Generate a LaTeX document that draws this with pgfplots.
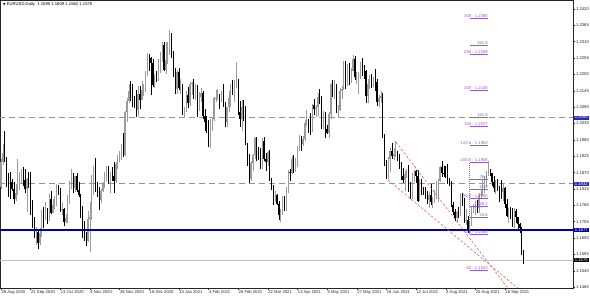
\documentclass[border=0pt]{standalone}
\usepackage{pgfplots}
\pgfplotsset{compat=1.18}
\usepackage{pgfplotstable}
\usepackage{fontspec}
\setmainfont{Liberation Sans}
\newfontfamily\dejavu{DejaVu Sans}
\definecolor{upc}{RGB}{155,155,155}
\definecolor{fib}{RGB}{145,95,195}
\definecolor{hline}{RGB}{140,140,205}
\definecolor{sline}{RGB}{0,0,170}
\definecolor{lblue}{RGB}{40,40,190}
\definecolor{chan}{RGB}{205,110,100}
\definecolor{pline}{RGB}{195,195,195}
\definecolor{fibv}{RGB}{200,90,120}
\pgfplotstableread{
O H L C
1.1823 1.1916 1.1815 1.1904
1.1904 1.1966 1.1896 1.1935
1.1935 1.2011 1.1905 1.1913
1.1913 1.1921 1.1820 1.1855
1.1855 1.1868 1.1789 1.1851
1.1851 1.1873 1.1781 1.1838
1.1838 1.1848 1.1808 1.1816
1.1816 1.1837 1.1765 1.1780
1.1780 1.1830 1.1773 1.1800
1.1800 1.1917 1.1796 1.1813
1.1813 1.1871 1.1810 1.1846
1.1846 1.1883 1.1836 1.1862
1.1862 1.1888 1.1826 1.1846
1.1846 1.1882 1.1801 1.1816
1.1816 1.1851 1.1737 1.1848
1.1848 1.1872 1.1819 1.1838
1.1838 1.1872 1.1727 1.1771
1.1771 1.1777 1.1685 1.1703
1.1703 1.1720 1.1651 1.1656
1.1656 1.1686 1.1627 1.1670
1.1670 1.1680 1.1612 1.1632
1.1632 1.1683 1.1625 1.1667
1.1667 1.1745 1.1654 1.1743
1.1743 1.1754 1.1684 1.1720
1.1720 1.1770 1.1710 1.1748
1.1748 1.1750 1.1696 1.1714
1.1714 1.1797 1.1708 1.1781
1.1781 1.1809 1.1731 1.1735
1.1735 1.1782 1.1733 1.1761
1.1761 1.1790 1.1747 1.1765
1.1765 1.1831 1.1759 1.1826
1.1826 1.1829 1.1794 1.1813
1.1813 1.1818 1.1737 1.1744
1.1744 1.1768 1.1726 1.1746
1.1746 1.1750 1.1689 1.1705
1.1705 1.1730 1.1701 1.1716
1.1716 1.1794 1.1701 1.1768
1.1768 1.1841 1.1765 1.1818
1.1818 1.1881 1.1814 1.1862
1.1862 1.1869 1.1802 1.1818
1.1818 1.1860 1.1803 1.1859
1.1859 1.1870 1.1803 1.1812
1.1812 1.1838 1.1789 1.1794
1.1794 1.1798 1.1718 1.1747
1.1747 1.1756 1.1650 1.1673
1.1673 1.1707 1.1640 1.1647
1.1647 1.1670 1.1622 1.1641
1.1641 1.1740 1.1635 1.1713
1.1713 1.1770 1.1602 1.1722
1.1722 1.1861 1.1711 1.1826
1.1826 1.1891 1.1795 1.1873
1.1873 1.1920 1.1803 1.1814
1.1814 1.1838 1.1787 1.1813
1.1813 1.1820 1.1745 1.1779
1.1779 1.1815 1.1766 1.1809
1.1809 1.1839 1.1803 1.1833
1.1833 1.1873 1.1817 1.1856
1.1856 1.1893 1.1842 1.1861
1.1861 1.1891 1.1832 1.1851
1.1851 1.1872 1.1801 1.1870
1.1870 1.1890 1.1843 1.1858
1.1858 1.1905 1.1800 1.1843
1.1843 1.1904 1.1836 1.1898
1.1898 1.1930 1.1882 1.1915
1.1915 1.1942 1.1904 1.1917
1.1917 1.1965 1.1911 1.1961
1.1961 1.2004 1.1923 1.1928
1.1928 1.2077 1.1924 1.2072
1.2072 1.2122 1.2039 1.2111
1.2111 1.2167 1.2103 1.2145
1.2145 1.2177 1.2110 1.2121
1.2121 1.2167 1.2089 1.2109
1.2109 1.2127 1.2088 1.2101
1.2101 1.2148 1.2058 1.2079
1.2079 1.2162 1.2059 1.2133
1.2133 1.2161 1.2083 1.2114
1.2114 1.2178 1.2113 1.2147
1.2147 1.2166 1.2126 1.2149
1.2149 1.2212 1.2140 1.2198
1.2198 1.2273 1.2194 1.2265
1.2265 1.2268 1.2213 1.2255
1.2255 1.2260 1.2130 1.2238
1.2238 1.2250 1.2156 1.2163
1.2163 1.2201 1.2153 1.2189
1.2189 1.2211 1.2176 1.2188
1.2188 1.2251 1.2178 1.2215
1.2215 1.2276 1.2206 1.2247
1.2247 1.2310 1.2241 1.2300
1.2300 1.2310 1.2213 1.2216
1.2216 1.2310 1.2200 1.2248
1.2248 1.2310 1.2234 1.2297
1.2297 1.2349 1.2264 1.2326
1.2326 1.2340 1.2255 1.2270
1.2270 1.2280 1.2192 1.2219
1.2219 1.2222 1.2133 1.2152
1.2152 1.2216 1.2133 1.2208
1.2208 1.2223 1.2146 1.2155
1.2155 1.2183 1.2133 1.2157
1.2157 1.2167 1.2063 1.2077
1.2077 1.2091 1.2054 1.2077
1.2077 1.2145 1.2072 1.2130
1.2130 1.2157 1.2087 1.2105
1.2105 1.2173 1.2094 1.2167
1.2167 1.2175 1.2132 1.2172
1.2172 1.2184 1.2118 1.2139
1.2139 1.2169 1.2115 1.2160
1.2160 1.2164 1.2058 1.2113
1.2113 1.2141 1.2077 1.2125
1.2125 1.2155 1.2106 1.2137
1.2137 1.2143 1.2051 1.2061
1.2061 1.2083 1.2011 1.2040
1.2040 1.2061 1.2003 1.2036
1.2036 1.2046 1.1956 1.1963
1.1963 1.2050 1.1952 1.2047
1.2047 1.2053 1.2011 1.2050
1.2050 1.2124 1.2043 1.2119
1.2119 1.2149 1.2106 1.2121
1.2121 1.2150 1.2114 1.2132
1.2132 1.2135 1.2083 1.2119
1.2119 1.2144 1.2108 1.2127
1.2127 1.2169 1.2092 1.2103
1.2103 1.2108 1.2023 1.2039
1.2039 1.2092 1.2022 1.2092
1.2092 1.2144 1.2074 1.2119
1.2119 1.2169 1.2090 1.2155
1.2155 1.2180 1.2129 1.2151
1.2151 1.2181 1.2108 1.2165
1.2165 1.2243 1.2155 1.2175
1.2175 1.2183 1.2062 1.2075
1.2075 1.2110 1.2022 1.2050
1.2050 1.2113 1.2011 1.2089
1.2089 1.2113 1.2043 1.2061
1.2061 1.2094 1.1963 1.1966
1.1966 1.1970 1.1893 1.1915
1.1915 1.1934 1.1836 1.1849
1.1849 1.1910 1.1843 1.1901
1.1901 1.1934 1.1876 1.1929
1.1929 1.1990 1.1916 1.1986
1.1986 1.1990 1.1910 1.1952
1.1952 1.1955 1.1911 1.1929
1.1929 1.1952 1.1883 1.1900
1.1900 1.1985 1.1883 1.1976
1.1976 1.1989 1.1908 1.1915
1.1915 1.1936 1.1874 1.1905
1.1905 1.1943 1.1893 1.1939
1.1939 1.1946 1.1842 1.1848
1.1848 1.1853 1.1810 1.1813
1.1813 1.1827 1.1761 1.1778
1.1778 1.1807 1.1772 1.1795
1.1795 1.1799 1.1760 1.1763
1.1763 1.1775 1.1712 1.1728
1.1728 1.1748 1.1704 1.1730
1.1730 1.1790 1.1726 1.1778
1.1778 1.1790 1.1740 1.1764
1.1764 1.1820 1.1740 1.1811
1.1811 1.1878 1.1800 1.1873
1.1873 1.1883 1.1843 1.1868
1.1868 1.1927 1.1866 1.1915
1.1915 1.1928 1.1870 1.1901
1.1901 1.1918 1.1873 1.1911
1.1911 1.1958 1.1890 1.1947
1.1947 1.1995 1.1942 1.1980
1.1980 1.1992 1.1943 1.1966
1.1966 1.1994 1.1958 1.1982
1.1982 1.2048 1.1975 1.2036
1.2036 1.2079 1.2025 1.2036
1.2036 1.2050 1.2003 1.2035
1.2035 1.2070 1.1995 1.2012
1.2012 1.2100 1.2005 1.2096
1.2096 1.2116 1.2062 1.2083
1.2083 1.2098 1.2057 1.2091
1.2091 1.2138 1.2061 1.2125
1.2125 1.2150 1.2099 1.2123
1.2123 1.2128 1.2015 1.2020
1.2020 1.2078 1.2015 1.2062
1.2062 1.2074 1.1986 1.2015
1.2015 1.2029 1.1999 1.2003
1.2003 1.2072 1.1986 1.2066
1.2066 1.2172 1.2050 1.2166
1.2166 1.2182 1.2125 1.2132
1.2132 1.2181 1.2116 1.2149
1.2149 1.2166 1.2071 1.2075
1.2075 1.2097 1.2052 1.2080
1.2080 1.2154 1.2077 1.2144
1.2144 1.2161 1.2118 1.2150
1.2150 1.2245 1.2149 1.2222
1.2222 1.2244 1.2152 1.2175
1.2175 1.2235 1.2162 1.2226
1.2226 1.2239 1.2163 1.2180
1.2180 1.2222 1.2170 1.2213
1.2213 1.2266 1.2212 1.2251
1.2251 1.2262 1.2180 1.2191
1.2191 1.2208 1.2169 1.2193
1.2193 1.2209 1.2133 1.2193
1.2193 1.2242 1.2186 1.2227
1.2227 1.2254 1.2196 1.2213
1.2213 1.2231 1.2186 1.2210
1.2210 1.2214 1.2103 1.2126
1.2126 1.2185 1.2104 1.2167
1.2167 1.2199 1.2150 1.2193
1.2193 1.2200 1.2154 1.2175
1.2175 1.2190 1.2159 1.2178
1.2178 1.2218 1.2144 1.2175
1.2175 1.2183 1.2093 1.2106
1.2106 1.2131 1.2092 1.2121
1.2121 1.2144 1.2104 1.2127
1.2127 1.2137 1.1987 1.1997
1.1997 1.2000 1.1891 1.1906
1.1906 1.1911 1.1847 1.1862
1.1862 1.1922 1.1848 1.1916
1.1916 1.1954 1.1872 1.1941
1.1941 1.1970 1.1916 1.1926
1.1926 1.1951 1.1911 1.1931
1.1931 1.1975 1.1923 1.1935
1.1935 1.1944 1.1909 1.1925
1.1925 1.1933 1.1882 1.1894
1.1894 1.1907 1.1846 1.1858
1.1858 1.1885 1.1835 1.1846
1.1846 1.1874 1.1807 1.1866
1.1866 1.1882 1.1853 1.1867
1.1867 1.1895 1.1806 1.1822
1.1822 1.1839 1.1781 1.1791
1.1791 1.1868 1.1782 1.1844
1.1844 1.1880 1.1838 1.1874
1.1874 1.1880 1.1836 1.1860
1.1860 1.1880 1.1772 1.1775
1.1775 1.1849 1.1773 1.1838
1.1838 1.1849 1.1795 1.1812
1.1812 1.1823 1.1795 1.1806
1.1806 1.1820 1.1781 1.1800
1.1800 1.1808 1.1763 1.1779
1.1779 1.1805 1.1751 1.1794
1.1794 1.1830 1.1760 1.1771
1.1771 1.1787 1.1752 1.1771
1.1771 1.1813 1.1768 1.1800
1.1800 1.1840 1.1781 1.1815
1.1815 1.1849 1.1770 1.1842
1.1842 1.1893 1.1837 1.1887
1.1887 1.1909 1.1856 1.1870
1.1870 1.1892 1.1856 1.1868
1.1868 1.1892 1.1852 1.1867
1.1867 1.1900 1.1832 1.1835
1.1835 1.1852 1.1826 1.1834
1.1834 1.1841 1.1754 1.1762
1.1762 1.1771 1.1727 1.1736
1.1736 1.1746 1.1706 1.1717
1.1717 1.1741 1.1705 1.1738
1.1738 1.1753 1.1716 1.1729
1.1729 1.1802 1.1725 1.1795
1.1795 1.1802 1.1757 1.1779
1.1779 1.1785 1.1701 1.1711
1.1711 1.1747 1.1694 1.1711
1.1711 1.1723 1.1666 1.1674
1.1674 1.1705 1.1664 1.1698
1.1698 1.1755 1.1692 1.1748
1.1748 1.1764 1.1734 1.1756
1.1756 1.1773 1.1727 1.1772
1.1772 1.1779 1.1735 1.1750
1.1750 1.1802 1.1735 1.1794
1.1794 1.1810 1.1781 1.1797
1.1797 1.1846 1.1790 1.1807
1.1807 1.1857 1.1801 1.1838
1.1838 1.1875 1.1822 1.1875
1.1875 1.1909 1.1858 1.1879
1.1879 1.1883 1.1857 1.1867
1.1867 1.1870 1.1825 1.1837
1.1837 1.1857 1.1803 1.1817
1.1817 1.1844 1.1797 1.1823
1.1823 1.1848 1.1808 1.1813
1.1813 1.1826 1.1771 1.1808
1.1808 1.1845 1.1782 1.1803
1.1803 1.1831 1.1773 1.1819
1.1819 1.1823 1.1751 1.1763
1.1763 1.1781 1.1722 1.1725
1.1725 1.1750 1.1700 1.1727
1.1727 1.1753 1.1715 1.1723
1.1723 1.1752 1.1688 1.1688
1.1688 1.1750 1.1684 1.1741
1.1741 1.1746 1.1701 1.1719
1.1719 1.1720 1.1677 1.1696
1.1696 1.1699 1.1668 1.1683
1.1683 1.1687 1.1592 1.1597
1.1595 1.1609 1.1562 1.1575
}\eurusd
\tikzset{fibtxt/.style={anchor=south east, inner xsep=0.3pt, inner ysep=0.4pt, text=fib, font=\fontsize{4.2}{5}\selectfont}}
\pgfplotsset{candle/.style={draw=none, mark=none, forget plot, error bars/.cd, y dir=plus, y explicit, error mark=none, error bar style={#1}}}
\begin{document}
\begin{tikzpicture}
\path[use as bounding box] (0pt,-8pt) rectangle (590pt,288pt);
\begin{axis}[
  scale only axis, width=573pt, height=288pt,
  xmin=-0.54, xmax=308.7, ymin=1.1482, ymax=1.2450,
  axis line style={black!85, line width=0.5pt},
  xtick={0,16,...,272},
  xticklabels={28 Aug 2020, 21 Sep 2020, 13 Oct 2020, 4 Nov 2020, 26 Nov 2020, 18 Dec 2020, 13 Jan 2021, 4 Feb 2021, 26 Feb 2021, 22 Mar 2021, 13 Apr 2021, 5 May 2021, 27 May 2021, 18 Jun 2021, 12 Jul 2021, 3 Aug 2021, 25 Aug 2021, 16 Sep 2021},
  ytick={1.1485,1.1540,1.1595,1.1650,1.1705,1.1760,1.1815,1.1870,1.1925,1.1980,1.2035,1.2090,1.2145,1.2200,1.2255,1.2310,1.2365,1.2420},
  xtick pos=left, ytick pos=right, xticklabel pos=left, yticklabel pos=right,
  tick align=outside, major tick length=2pt,
  tick style={black!85, line width=0.4pt},
  scaled y ticks=false,
  /pgf/number format/assume math mode=true,
  yticklabel style={/pgf/number format/.cd, fixed, fixed zerofill, precision=4, /tikz/.cd, anchor=west, inner xsep=0.8pt},
  xticklabel style={anchor=north west, inner xsep=0.3pt, inner ysep=0.6pt},
  tick label style={font=\fontsize{4.2}{5}\selectfont, text=black!85},
]
% price line and horizontal levels
\addplot[pline, line width=0.5pt, forget plot] coordinates {(-1,1.1575) (310,1.1575)};
\addplot[hline, line width=1.1pt, dash pattern=on 6pt off 4pt, forget plot] coordinates {(-1,1.2055) (310,1.2055)};
\addplot[hline, line width=1.1pt, dash pattern=on 6pt off 4pt, forget plot] coordinates {(-1,1.1832) (310,1.1832)};
% candles: up (gray)
\addplot[candle={line width=0.6pt, draw=upc}]
  table[x expr=\coordindex, y expr={\thisrow{C}>=\thisrow{O} ? \thisrow{L} : nan}, y error plus expr={\thisrow{H}-\thisrow{L}}] {\eurusd};
\addplot[candle={line width=1.3pt, draw=upc}]
  table[x expr=\coordindex, y expr={\thisrow{C}>=\thisrow{O} ? \thisrow{O} : nan}, y error plus expr={max(\thisrow{C}-\thisrow{O},0.00005)}] {\eurusd};
% candles: down (black)
\addplot[candle={line width=0.6pt, draw=black}]
  table[x expr=\coordindex, y expr={\thisrow{C}<\thisrow{O} ? \thisrow{L} : nan}, y error plus expr={\thisrow{H}-\thisrow{L}}] {\eurusd};
\addplot[candle={line width=1.3pt, draw=black}]
  table[x expr=\coordindex, y expr={\thisrow{C}<\thisrow{O} ? \thisrow{C} : nan}, y error plus expr={\thisrow{O}-\thisrow{C}}] {\eurusd};
% solid support line
\addplot[sline, line width=1.3pt, forget plot] coordinates {(-1,1.1677) (310,1.1677)};
% channel lines
\addplot[chan, line width=0.6pt, dash pattern=on 2.5pt off 1.8pt, forget plot] coordinates {(213.2,1.1972) (290,1.1348)};
\addplot[chan, line width=0.6pt, dash pattern=on 2.5pt off 1.8pt, forget plot] coordinates {(208.9,1.1845) (295,1.1398)};
% fibonacci
\addplot[fibv, line width=0.6pt, dash pattern=on 0.8pt off 1.2pt, forget plot] coordinates {(253,1.1664) (253,1.1906)};
\addplot[fib, line width=0.5pt, unbounded coords=jump, forget plot] coordinates {
 (253,1.2390) (263,1.2390) (258,nan)
 (253,1.2298) (263,1.2298) (258,nan)
 (253,1.2269) (263,1.2269) (258,nan)
 (253,1.2148) (263,1.2148) (258,nan)
 (253,1.2056) (263,1.2056) (258,nan)
 (253,1.2027) (263,1.2027) (258,nan)
 (253,1.1963) (263,1.1963) (258,nan)
 (253,1.1906) (263,1.1906) (258,nan)
 (253,1.1849) (263,1.1849) (258,nan)
 (253,1.1814) (263,1.1814) (258,nan)
 (253,1.1785) (263,1.1785) (258,nan)
 (253,1.1756) (263,1.1756) (258,nan)
 (253,1.1721) (263,1.1721) (258,nan)
 (253,1.1664) (263,1.1664) (258,nan)
 (253,1.1543) (263,1.1543)};
\node[fibtxt] at (axis cs:263,1.2390) {300 - 1.2390};
\node[fibtxt] at (axis cs:263,1.2298) {261.8};
\node[fibtxt] at (axis cs:263,1.2269) {250 - 1.2269};
\node[fibtxt] at (axis cs:263,1.2148) {200 - 1.2148};
\node[fibtxt] at (axis cs:263,1.2056) {161.8};
\node[fibtxt] at (axis cs:263,1.2027) {150 - 1.2027};
\node[fibtxt] at (axis cs:263,1.1963) {123.6 - 1.1963};
\node[fibtxt] at (axis cs:263,1.1906) {100.0 - 1.1906};
\node[fibtxt] at (axis cs:263,1.1849) {76.4};
\node[fibtxt] at (axis cs:263,1.1814) {61.8};
\node[fibtxt] at (axis cs:263,1.1785) {50.0 - 1.1785};
\node[fibtxt] at (axis cs:263,1.1756) {38.2};
\node[fibtxt] at (axis cs:263,1.1721) {23.6};
\node[fibtxt] at (axis cs:263,1.1664) {0.0 - 1.1664};
\node[fibtxt] at (axis cs:263,1.1543) {-50 - 1.1543};
\node[anchor=north west, inner sep=0pt, font=\fontsize{4.2}{5}\selectfont] at (rel axis cs:0,1) [xshift=3pt, yshift=-2.2pt] {{\dejavu\fontsize{3.2}{4}\selectfont ▼} EURUSD,Daily\ \ 1.1595 1.1609 1.1562 1.1575};
\coordinate (l1) at (axis cs:308.7,1.2055);
\coordinate (l2) at (axis cs:308.7,1.1832);
\coordinate (l3) at (axis cs:308.7,1.1677);
\coordinate (l4) at (axis cs:308.7,1.1575);
\end{axis}
\tikzset{hl/.style={anchor=west, text=white, inner xsep=0.9pt, inner ysep=0.5pt, font=\fontsize{4.2}{5}\selectfont, xshift=0.8pt}}
\node[hl, fill=lblue] at (l1) {1.2055};
\node[hl, fill=lblue] at (l2) {1.1832};
\node[hl, fill=sline] at (l3) {1.1677};
\node[hl, fill=black] at (l4) {1.1575};
\end{tikzpicture}
\end{document}
